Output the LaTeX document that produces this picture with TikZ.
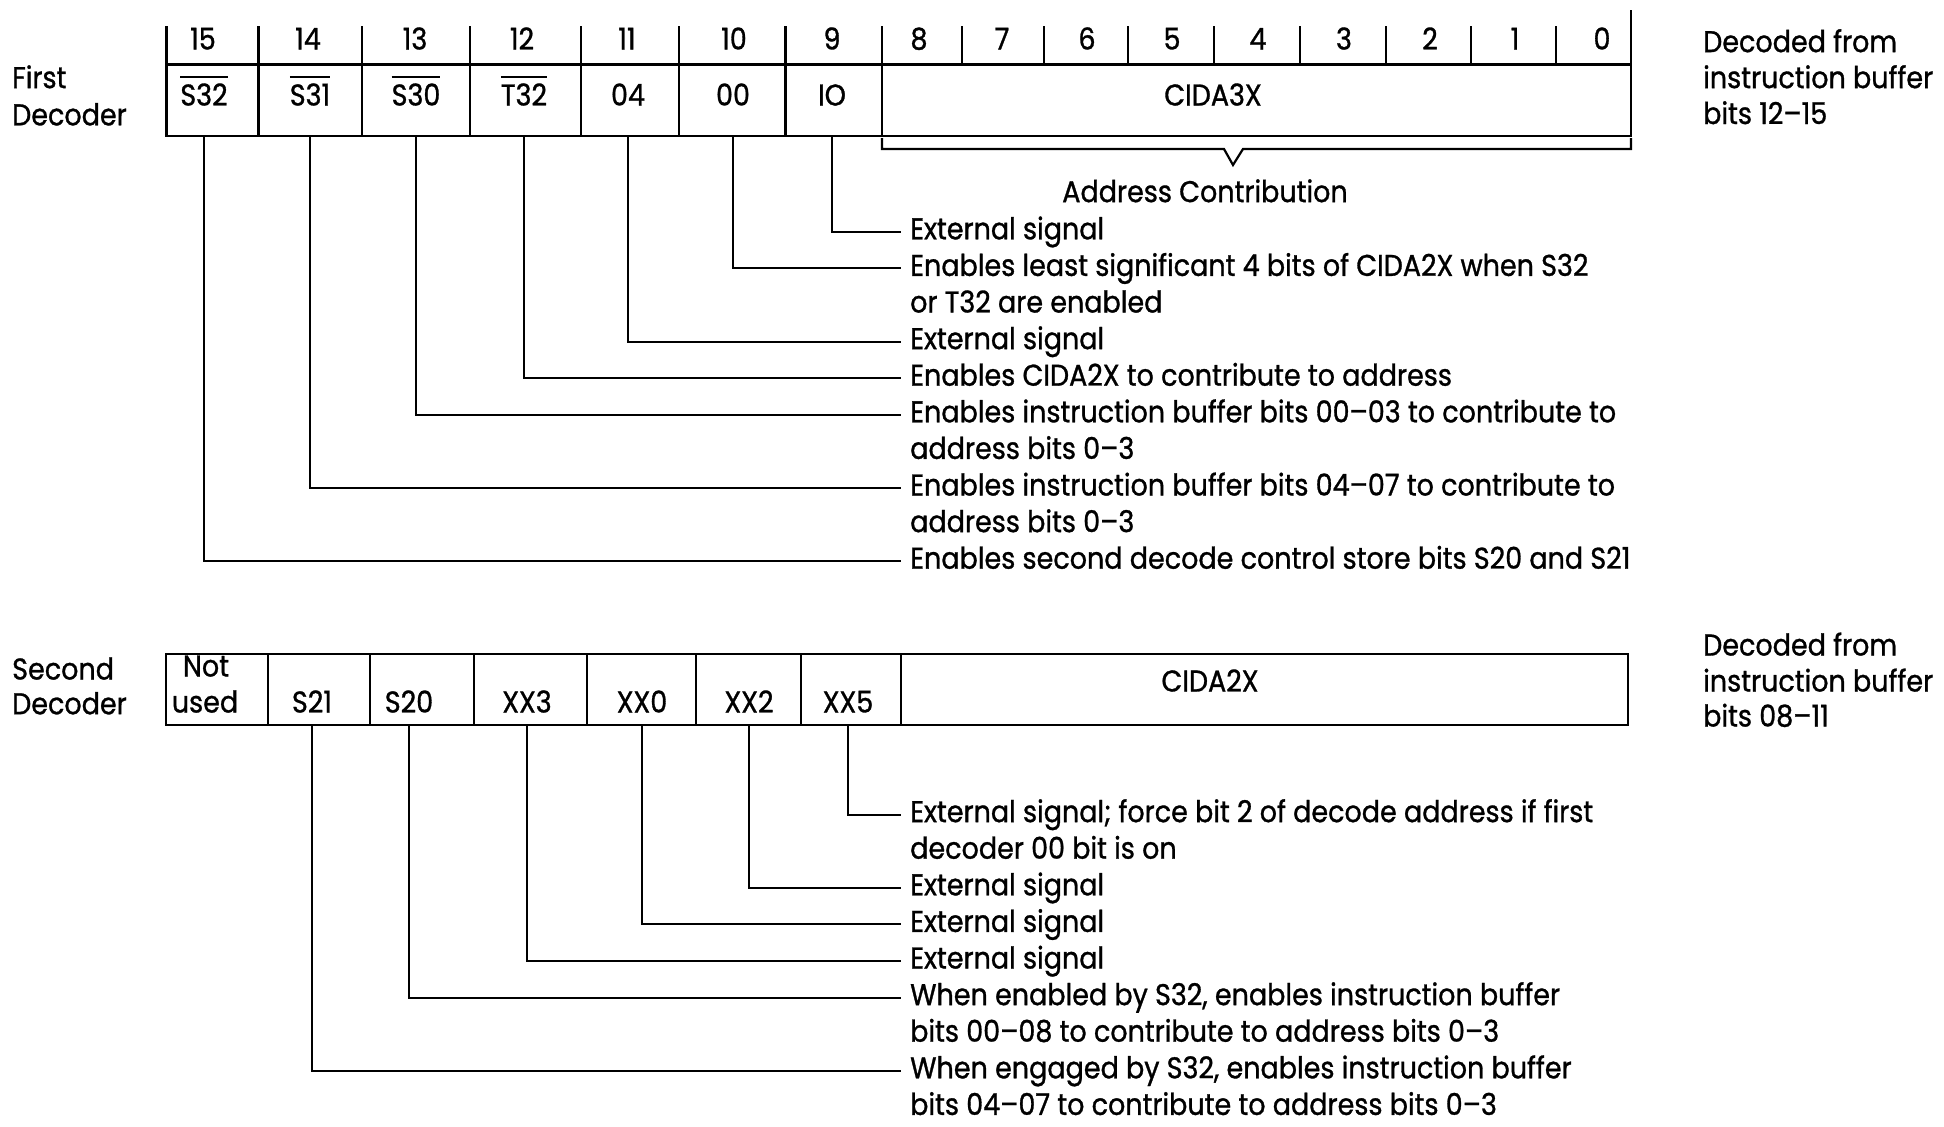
\documentclass[tikz,border=0pt]{standalone}
\usepackage{fontspec}
\newfontfamily\df{Poppins}[FakeStretch=0.9, FakeBold=1, Ligatures=TeX]
\newcommand{\ovl}[1]{\vbox{\hrule height 2.6pt\kern 5pt\hbox{#1}}}
\begin{document}
\begin{tikzpicture}[x=1pt,y=-1pt,
  txt/.style={font=\df\fontsize{30}{36}\selectfont, inner sep=0pt, text height=22pt, text depth=7pt},
  desc/.style={txt, anchor=west},
  cell/.style={draw, line width=2.8pt, inner sep=0pt, outer sep=0pt},
  tick/.style={line width=2.2pt},
  leader/.style={line width=2pt}]
\fill[white] (0,0) rectangle (1944,1127);
\useasboundingbox (0,0) rectangle (1944,1127);

% ---------------- First decoder ----------------
\node[txt, anchor=west] (fl1) at (12,80.6) {First};
\node[txt, anchor=west] (fl2) at (12,117.8) {Decoder};
\node[txt, anchor=west] (fr1) at (1703,44.6) {Decoded from};
\node[txt, anchor=west] (fr2) at (1703,80.6) {instruction buffer};
\node[txt, anchor=west] (fr3) at (1703,116.5) {bits 12--15};

% ticks of bit-number row
\foreach \x in {166.5,258.5,362,470,581,679,785.5,882,962,1044,1128,1214,1300,1386,1471,1556}
  \draw[tick] (\x,26) -- (\x,64.5);
\draw[tick] (1631,10) -- (1631,64.5);

% bit numbers
\foreach \n/\x in {15/203,14/308,13/415,12/522,11/627,10/734,9/832,8/919,7/1002,6/1087,5/1172,4/1258,3/1344,2/1430,1/1515,0/1602}
  \node[txt] (n\n) at (\x,42) {\n};

% cells
\node[cell, minimum width=92pt,  minimum height=71.5pt] (cS32)  at (212.5,100.25) {};
\node[cell, minimum width=103.5pt, minimum height=71.5pt] (cS31) at (310.25,100.25) {};
\node[cell, minimum width=108pt, minimum height=71.5pt] (cS30)  at (416,100.25) {};
\node[cell, minimum width=111pt, minimum height=71.5pt] (cT32)  at (525.5,100.25) {};
\node[cell, minimum width=98pt,  minimum height=71.5pt] (c04)   at (630,100.25) {};
\node[cell, minimum width=106.5pt, minimum height=71.5pt] (c00) at (732.25,100.25) {};
\node[cell, minimum width=96.5pt, minimum height=71.5pt] (cIO)  at (833.75,100.25) {};
\node[cell, minimum width=749pt, minimum height=71.5pt] (cC3)   at (1256.5,100.25) {};

% cell labels
\node[txt] (lS32) at (204,98) {\ovl{S32}};
\node[txt] (lS31) at (310,98) {\ovl{S31}};
\node[txt] (lS30) at (416,98) {\ovl{S30}};
\node[txt] (lT32) at (524,98) {\ovl{T32}};
\node[txt] (l04)  at (628,98) {04};
\node[txt] (l00)  at (733,98) {00};
\node[txt] (lIO)  at (832,98) {IO};
\node[txt] (lC3)  at (1213,98) {CIDA3X};

% address contribution bracket
\draw[line width=2.2pt] (882,138) -- (882,149) -- (1224,149) -- (1233,165) -- (1243,149) -- (1631,149) -- (1631,138);
\node[txt] (ac) at (1205,194.6) {Address Contribution};

% descriptions
\node[desc] (d1)  at (910,231.8) {External signal};
\node[desc] (d2)  at (910,268.4) {Enables least significant 4 bits of CIDA2X when S32};
\node[desc] (d3)  at (910,305)   {or T32 are enabled};
\node[desc] (d4)  at (910,341.6) {External signal};
\node[desc] (d5)  at (910,378.2) {Enables CIDA2X to contribute to address};
\node[desc] (d6)  at (910,414.8) {Enables instruction buffer bits 00--03 to contribute to};
\node[desc] (d7)  at (910,451.4) {address bits 0--3};
\node[desc] (d8)  at (910,488)   {Enables instruction buffer bits 04--07 to contribute to};
\node[desc] (d9)  at (910,524.6) {address bits 0--3};
\node[desc] (d10) at (910,561.2) {Enables second decode control store bits S20 and S21};

\draw[leader] (lIO  |- cIO.south)  |- ([xshift=-9pt]d1.west);
\draw[leader] (l00  |- c00.south)  |- ([xshift=-9pt]d2.west);
\draw[leader] (l04  |- c04.south)  |- ([xshift=-9pt]d4.west);
\draw[leader] (lT32 |- cT32.south) |- ([xshift=-9pt]d5.west);
\draw[leader] (lS30 |- cS30.south) |- ([xshift=-9pt]d6.west);
\draw[leader] (lS31 |- cS31.south) |- ([xshift=-9pt]d8.west);
\draw[leader] (lS32 |- cS32.south) |- ([xshift=-9pt]d10.west);

% ---------------- Second decoder ----------------
\node[txt, anchor=west] (sl1) at (12,672) {Second};
\node[txt, anchor=west] (sl2) at (12,706.7) {Decoder};
\node[txt, anchor=west] (sr1) at (1703,648) {Decoded from};
\node[txt, anchor=west] (sr2) at (1703,684) {instruction buffer};
\node[txt, anchor=west] (sr3) at (1703,719) {bits 08--11};

\node[cell, minimum width=102pt, minimum height=71pt] (cNU)  at (217,689.5) {};
\node[cell, minimum width=102pt, minimum height=71pt] (cS21) at (319,689.5) {};
\node[cell, minimum width=104pt, minimum height=71pt] (cS20) at (422,689.5) {};
\node[cell, minimum width=113pt, minimum height=71pt] (cXX3) at (530.5,689.5) {};
\node[cell, minimum width=109pt, minimum height=71pt] (cXX0) at (641.5,689.5) {};
\node[cell, minimum width=105pt, minimum height=71pt] (cXX2) at (748.5,689.5) {};
\node[cell, minimum width=100pt, minimum height=71pt] (cXX5) at (851,689.5) {};
\node[cell, minimum width=727pt, minimum height=71pt] (cC2)  at (1264.5,689.5) {};

\node[txt] (lNot)  at (206,669) {Not};
\node[txt] (lUsed) at (205,705) {used};
\node[txt] (lS21)  at (312,705) {S21};
\node[txt] (lS20)  at (409,705) {S20};
\node[txt] (lXX3)  at (527,705) {XX3};
\node[txt] (lXX0)  at (642,705) {XX0};
\node[txt] (lXX2)  at (749,705) {XX2};
\node[txt] (lXX5)  at (848,705) {XX5};
\node[txt] (lC2)   at (1210,684) {CIDA2X};

\node[desc] (e1) at (910,814.6)  {External signal; force bit 2 of decode address if first};
\node[desc] (e2) at (910,851.2)  {decoder 00 bit is on};
\node[desc] (e3) at (910,887.8)  {External signal};
\node[desc] (e4) at (910,924.4)  {External signal};
\node[desc] (e5) at (910,961)    {External signal};
\node[desc] (e6) at (910,997.6)  {When enabled by S32, enables instruction buffer};
\node[desc] (e7) at (910,1034.2) {bits 00--08 to contribute to address bits 0--3};
\node[desc] (e8) at (910,1070.8) {When engaged by S32, enables instruction buffer};
\node[desc] (e9) at (910,1107.4) {bits 04--07 to contribute to address bits 0--3};

\draw[leader] (lXX5 |- cXX5.south) |- ([xshift=-9pt]e1.west);
\draw[leader] (lXX2 |- cXX2.south) |- ([xshift=-9pt]e3.west);
\draw[leader] (lXX0 |- cXX0.south) |- ([xshift=-9pt]e4.west);
\draw[leader] (lXX3 |- cXX3.south) |- ([xshift=-9pt]e5.west);
\draw[leader] (lS20 |- cS20.south) |- ([xshift=-9pt]e6.west);
\draw[leader] (lS21 |- cS21.south) |- ([xshift=-9pt]e8.west);
\end{tikzpicture}
\end{document}
